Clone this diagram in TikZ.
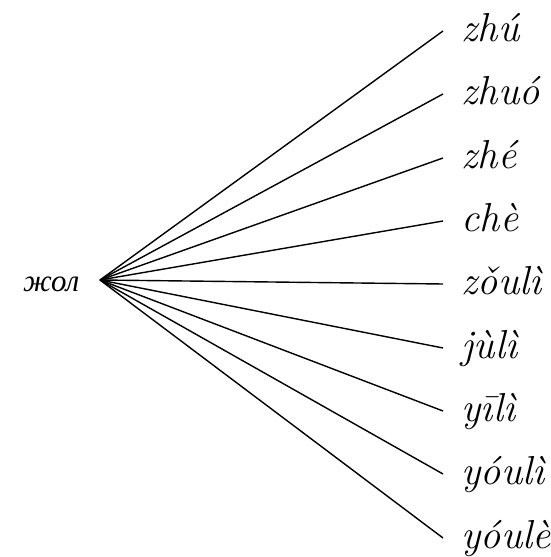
\documentclass[tikz,border=0pt]{standalone}
\usepackage{fontspec}
\newfontfamily\cyrfont{Liberation Serif}
\tikzstyle{reading}=[inner xsep=0.18cm,inner ysep=0pt,text height=0.31cm,text depth=0.1cm,font=\fontsize{11.5}{13}\selectfont\itshape,anchor=west]
\tikzstyle{source}=[inner xsep=0.2cm,inner ysep=0pt,text height=0.24cm,text depth=0pt,font=\fontsize{8.8}{10}\selectfont\cyrfont\itshape,anchor=east]

\begin{document}
\begin{tikzpicture}
    \useasboundingbox (0,0) rectangle (5.50,5.57);
    %Source word
    \node[source] (zhol) at (1.00,2.77) {жол};
    %Readings
    \foreach \y/\name/\txt in {5.26/zhu/zhú, 4.63/zhuo/zhuó, 3.99/zhe/zhé,
                               3.36/che/chè, 2.73/zouli/zǒulì, 2.09/juli/jùlì,
                               1.46/yili/yīlì, 0.83/youli/yóulì, 0.19/youle/yóulè}
    {
    \node[reading] (\name) at (4.43,\y) {\txt};
    \draw (zhol.east) -- (\name.west);
    }
\end{tikzpicture}
\end{document}
